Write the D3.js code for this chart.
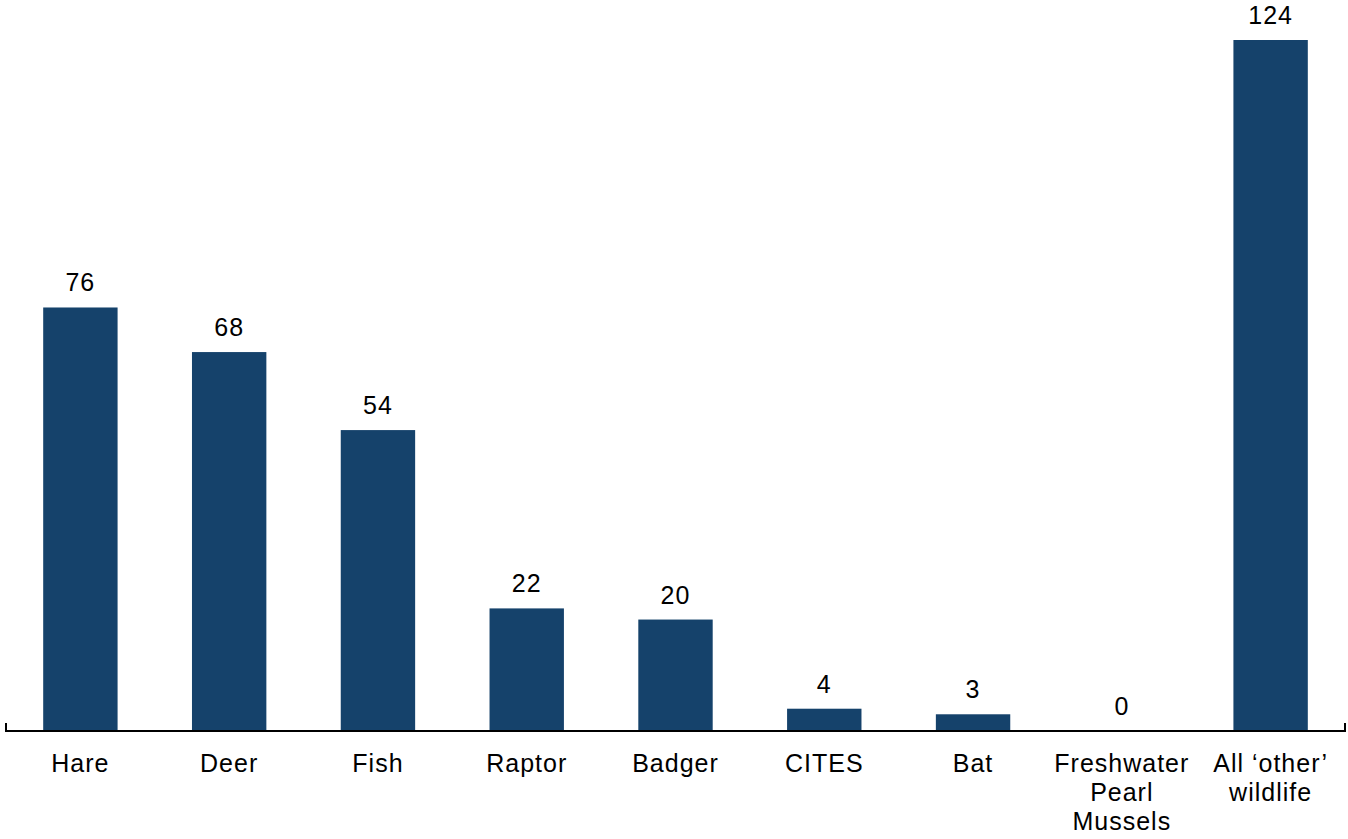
<!DOCTYPE html>
<html>
<head>
<meta charset="utf-8">
<script src="https://cdn.jsdelivr.net/npm/d3@7"></script>
<style>
  body { margin: 0; background: #fff; }
  text { font-family: "Liberation Sans", Arial, sans-serif; fill: #000; letter-spacing: 1px; }
</style>
</head>
<body>
<script>
// Data
var categories = ["Hare", "Deer", "Fish", "Raptor", "Badger", "CITES", "Bat",
                  "Freshwater\nPearl\nMussels", "All \u2018other\u2019\nwildlife"];
var values = [76, 68, 54, 22, 20, 4, 3, 0, 124];

var w = 1348, h = 839;
var x0 = 6, x1 = 1345, baseY = 731;

var xScale = d3.scaleBand()
  .domain(d3.range(categories.length))
  .range([x0, x1])
  .paddingInner(0.5)
  .paddingOuter(0.25);

var yScale = d3.scaleLinear()
  .domain([0, 124])
  .range([baseY, 40]);

var svg = d3.select("body").append("svg")
  .attr("width", w)
  .attr("height", h);

// Bars
svg.selectAll("rect.bar")
  .data(values)
  .enter()
  .append("rect")
  .attr("class", "bar")
  .attr("x", function(d, i) { return xScale(i); })
  .attr("y", function(d) { return yScale(d); })
  .attr("width", xScale.bandwidth())
  .attr("height", function(d) { return baseY - yScale(d); })
  .attr("fill", "#15426b");

// Value labels
svg.selectAll("text.val")
  .data(values)
  .enter()
  .append("text")
  .attr("class", "val")
  .attr("text-anchor", "middle")
  .attr("x", function(d, i) { return xScale(i) + xScale.bandwidth() / 2; })
  .attr("y", function(d) { return yScale(d) - 16; })
  .attr("font-size", "25px")
  .text(function(d) { return d; });

// Axis line with end ticks
svg.append("path")
  .attr("d", "M" + x0 + "," + (baseY - 8) + "V" + baseY + "H" + x1 + "V" + (baseY - 8))
  .attr("fill", "none")
  .attr("stroke", "#000")
  .attr("stroke-width", 2);

// Category labels
var cat = svg.selectAll("text.cat")
  .data(categories)
  .enter()
  .append("text")
  .attr("class", "cat")
  .attr("text-anchor", "middle")
  .attr("font-size", "25px")
  .attr("y", 772);

cat.selectAll("tspan")
  .data(function(d, i) {
    return d.split("\n").map(function(s) { return { s: s, i: i }; });
  })
  .enter()
  .append("tspan")
  .attr("x", function(d) { return xScale(d.i) + xScale.bandwidth() / 2; })
  .attr("dy", function(d, j) { return j === 0 ? 0 : 29; })
  .text(function(d) { return d.s; });
</script>
</body>
</html>
